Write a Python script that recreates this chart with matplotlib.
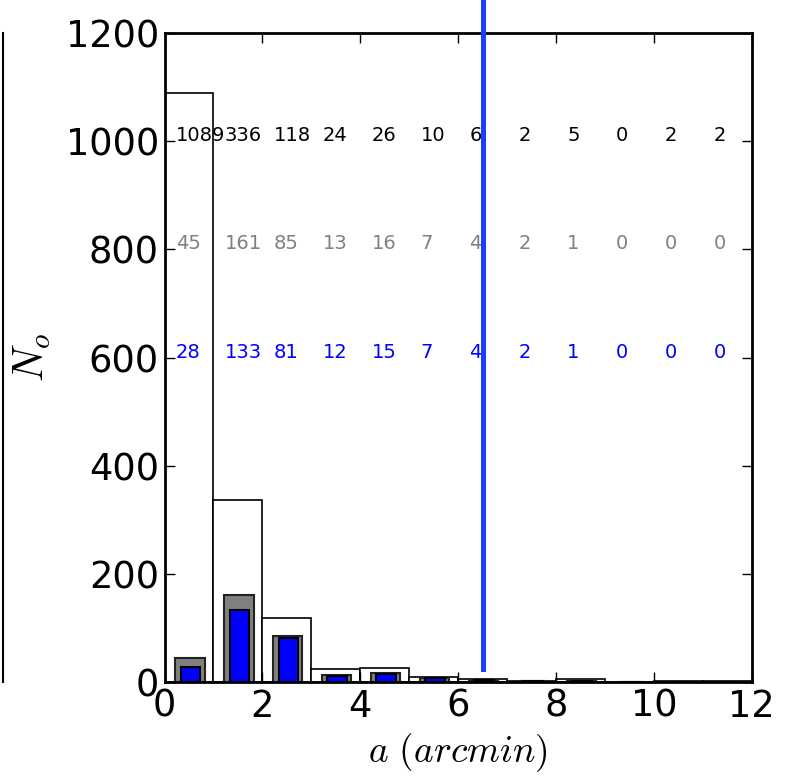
import numpy as np
import matplotlib
matplotlib.use("Agg")
from matplotlib import pyplot as plt

plt.rcParams['mathtext.fontset'] = 'cm'
plt.rcParams['font.family'] = 'DejaVu Sans'

# бины по большой полуоси, arcmin
bin_edges = np.arange(0, 13, 1)
# все объекты, средняя выборка, итоговая выборка
n_all = [1089, 336, 118, 24, 26, 10, 6, 2, 5, 0, 2, 2]
n_mid = [45, 161, 85, 13, 16, 7, 4, 2, 1, 0, 0, 0]
n_sel = [28, 133, 81, 12, 15, 7, 4, 2, 1, 0, 0, 0]

a_cut = 6.5          # граница отбора
cut_from, cut_to = 25, 1300

fig = plt.figure(figsize=(7.89, 7.76), dpi=100)

# соседняя панель (видна только правая рамка)
ax0 = fig.add_axes([-0.5, 0.1211, 0.5 + 2.5 / 789, 0.8364])
ax0.set_xticks([])
ax0.set_yticks([])
for s in ['left', 'top', 'bottom']:
    ax0.spines[s].set_visible(False)
ax0.spines['right'].set_linewidth(1.5)

ax = fig.add_axes([0.2085, 0.1211, 0.7442, 0.8364])

left = bin_edges[:-1]
ax.bar(left, n_all, width=1.0, align='edge', color='white',
       edgecolor='black', linewidth=1.2, zorder=1)
ax.bar(left + 0.52, n_mid, width=0.6, color='gray',
       edgecolor='#222222', linewidth=1.5, zorder=2)
ax.bar(left + 0.53, n_sel, width=0.4, color='blue',
       edgecolor='black', linewidth=1.5, zorder=3)

for i in range(len(left)):
    ax.text(left[i] + 0.23, 1000, str(n_all[i]), color='black', fontsize=14)
    ax.text(left[i] + 0.23, 800, str(n_mid[i]), color='gray', fontsize=14)
    ax.text(left[i] + 0.23, 600, str(n_sel[i]), color='blue', fontsize=14)

ax.plot([a_cut, a_cut], [cut_from, cut_to], color='#1e3cff', lw=3.6,
        clip_on=False, zorder=5)

ax.set_xlim(0, 12)
ax.set_ylim(0, 1200)
ax.set_xticks(np.arange(0, 13, 2))
ax.set_yticks(np.arange(0, 1201, 200))
ax.tick_params(direction='in', top=True, right=True, length=7, width=1,
               labelsize=26.5, pad=4)
for s in ax.spines.values():
    s.set_linewidth(2)

ax.set_xlabel(r'$a\ (arcmin)$', fontsize=27)
ax.set_ylabel(r'$N_o$', fontsize=30)
ax.yaxis.set_label_coords(-0.19, 0.5)
ax.xaxis.set_label_coords(0.5, -0.076)

fig.savefig('out.png', dpi=100)
